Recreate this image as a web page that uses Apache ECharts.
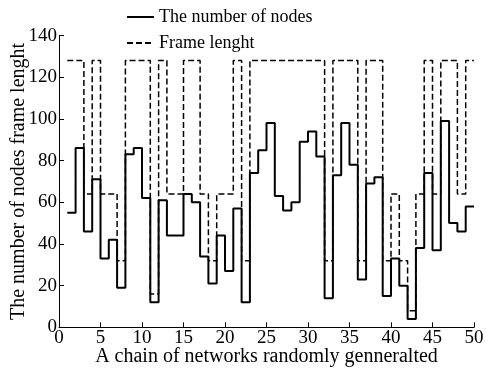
<!DOCTYPE html>
<html>
<head>
<meta charset="utf-8">
<script src="https://cdn.jsdelivr.net/npm/echarts@6/dist/echarts.min.js"></script>
<style>
  html, body { margin: 0; padding: 0; background: #fff; }
  #chart { width: 488px; height: 371px; }
</style>
</head>
<body>
<div id="chart"></div>
<script>
  // each value holds from x = i to x = i + 1 (i starting at 1)
  const nodeCounts = [55, 86, 46, 71, 33, 42, 19, 83, 86, 62,
    12, 61, 44, 44, 64, 60, 34, 21, 44, 27,
    57, 12, 74, 85, 98, 63, 56, 60, 89, 94,
    82, 14, 73, 98, 78, 23, 69, 72, 15, 33,
    20, 4, 38, 74, 37, 99, 50, 46, 58];
  const frameLengths = [128, 128, 64, 128, 64, 64, 32, 128, 128, 128,
    16, 128, 64, 64, 128, 128, 64, 32, 64, 64,
    128, 32, 128, 128, 128, 128, 128, 128, 128, 128,
    128, 32, 128, 128, 128, 32, 128, 128, 32, 64,
    32, 8, 64, 128, 64, 128, 128, 64, 128];
  const xTicks = [0, 50, 5];
  const yTicks = [0, 140, 20];

  const font = 'Liberation Serif';

  // turn the per-interval values into step points, closing the last step
  function toSteps(arr){
    let pts = arr.map((v, i) => [i + 1, v]);
    pts.push([arr.length + 1, arr[arr.length - 1]]);
    return pts;
  }

  const chart = echarts.init(document.getElementById('chart'));
  chart.setOption({
    animation: false,
    textStyle: { fontFamily: font },
    grid: {
      left: 59,
      right: 14,
      top: 35.6,
      bottom: 43.7,
      containLabel: false,
      outerBoundsMode: 'none'
    },
    legend: {
      orient: 'vertical',
      left: 121,
      top: 3,
      itemWidth: 27,
      itemHeight: 14,
      itemGap: 8,
      itemStyle: { opacity: 0 },
      textStyle: {
        fontFamily: font,
        fontSize: 18,
        color: '#000'
      },
      data: ['The number of nodes', 'Frame lenght']
    },
    xAxis: {
      type: 'value',
      min: xTicks[0],
      max: xTicks[1],
      interval: xTicks[2],
      name: 'A chain of networks randomly genneralted',
      nameLocation: 'middle',
      nameGap: 19,
      nameMoveOverlap: false,
      nameTextStyle: {
        fontFamily: font,
        fontSize: 20,
        color: '#000'
      },
      axisLine: { lineStyle: { color: '#000', width: 1 } },
      axisTick: { inside: true, length: 5, lineStyle: { color: '#000' } },
      axisLabel: {
        margin: 1,
        fontFamily: font,
        fontSize: 19,
        color: '#000'
      },
      splitLine: { show: false }
    },
    yAxis: {
      type: 'value',
      min: yTicks[0],
      max: yTicks[1],
      interval: yTicks[2],
      name: 'The number of nodes frame lenght',
      nameLocation: 'middle',
      nameGap: 30,
      nameMoveOverlap: false,
      nameTextStyle: {
        fontFamily: font,
        fontSize: 20,
        color: '#000'
      },
      axisLine: { show: true, lineStyle: { color: '#000', width: 1 } },
      axisTick: { show: true, inside: true, length: 5, lineStyle: { color: '#000' } },
      axisLabel: {
        margin: 2,
        fontFamily: font,
        fontSize: 19,
        color: '#000'
      },
      splitLine: { show: false }
    },
    series: [{
      name: 'The number of nodes',
      type: 'line',
      step: 'end',
      symbol: 'none',
      lineStyle: { color: '#000', width: 2 },
      itemStyle: { color: '#000' },
      data: toSteps(nodeCounts)
    }, {
      name: 'Frame lenght',
      type: 'line',
      step: 'end',
      symbol: 'none',
      lineStyle: { color: '#000', width: 1.5, type: [6, 3] },
      itemStyle: { color: '#000' },
      data: toSteps(frameLengths)
    }]
  });
</script>
</body>
</html>
